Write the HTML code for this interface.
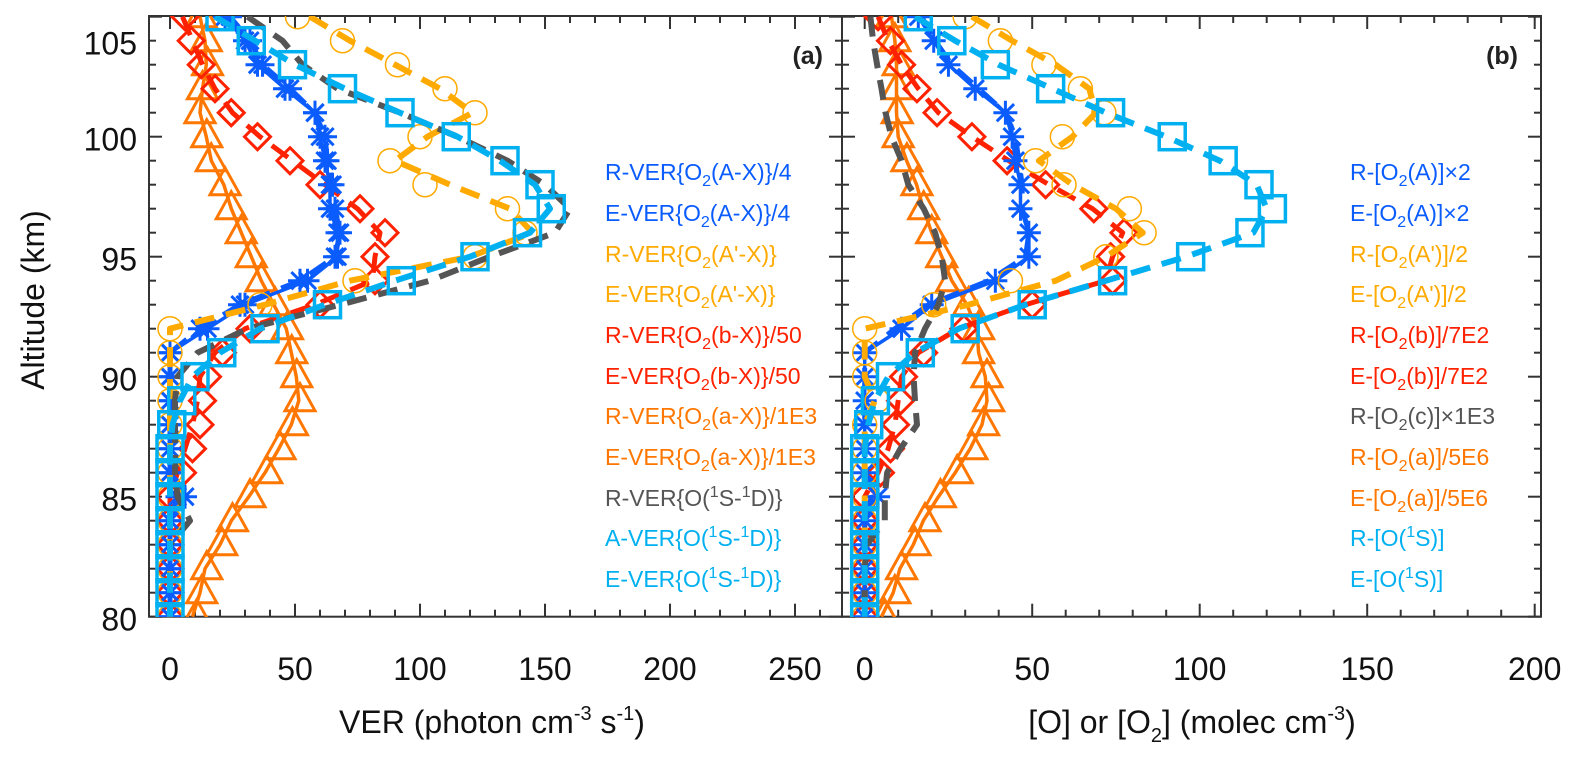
<!DOCTYPE html>
<html><head><meta charset="utf-8"><style>
html,body{margin:0;padding:0;background:#fff}
svg{display:block;font-family:"Liberation Sans",Arial,sans-serif}
</style></head><body>
<svg id="chart" width="1577" height="758" viewBox="0 0 1577 758" xmlns="http://www.w3.org/2000/svg">
<defs>
<clipPath id="clipA"><rect x="149" y="16" width="693" height="601"/></clipPath>
<clipPath id="clipB"><rect x="842" y="16" width="699" height="601"/></clipPath>
</defs>
<g id="axes"></g>
<g id="plotA" clip-path="url(#clipA)"></g>
<g id="plotB" clip-path="url(#clipB)"></g>
<g id="labels">
<text x="823" y="64" font-size="25" font-weight="bold" text-anchor="end" fill="#222">(a)</text>
<text x="1518" y="64" font-size="25" font-weight="bold" text-anchor="end" fill="#222">(b)</text>
<text transform="translate(44,300) rotate(-90)" font-size="32" text-anchor="middle" fill="#111">Altitude (km)</text>
<text x="492" y="733" font-size="32" text-anchor="middle" fill="#111">VER (photon cm<tspan font-size="20" dy="-13">-3</tspan><tspan dy="13"> s</tspan><tspan font-size="20" dy="-13">-1</tspan><tspan dy="13">)</tspan></text>
<text x="1192" y="733" font-size="32" text-anchor="middle" fill="#111">[O] or [O<tspan font-size="20" dy="9">2</tspan><tspan dy="-9">] (molec cm</tspan><tspan font-size="20" dy="-13">-3</tspan><tspan dy="13">)</tspan></text>
</g>
<g id="legendA" font-size="23">
<text x="605" y="180" fill="#0a5cff">R-VER{O<tspan font-size="16" dy="6">2</tspan><tspan dy="-6">(A-X)}/4</tspan></text>
<text x="605" y="221" fill="#0a5cff">E-VER{O<tspan font-size="16" dy="6">2</tspan><tspan dy="-6">(A-X)}/4</tspan></text>
<text x="605" y="262" fill="#ffaa00">R-VER{O<tspan font-size="16" dy="6">2</tspan><tspan dy="-6">(A'-X)}</tspan></text>
<text x="605" y="302" fill="#ffaa00">E-VER{O<tspan font-size="16" dy="6">2</tspan><tspan dy="-6">(A'-X)}</tspan></text>
<text x="605" y="343" fill="#ff2200">R-VER{O<tspan font-size="16" dy="6">2</tspan><tspan dy="-6">(b-X)}/50</tspan></text>
<text x="605" y="384" fill="#ff2200">E-VER{O<tspan font-size="16" dy="6">2</tspan><tspan dy="-6">(b-X)}/50</tspan></text>
<text x="605" y="424" fill="#ff7700">R-VER{O<tspan font-size="16" dy="6">2</tspan><tspan dy="-6">(a-X)}/1E3</tspan></text>
<text x="605" y="465" fill="#ff7700">E-VER{O<tspan font-size="16" dy="6">2</tspan><tspan dy="-6">(a-X)}/1E3</tspan></text>
<text x="605" y="506" fill="#555">R-VER{O(<tspan font-size="16" dy="-9">1</tspan><tspan dy="9">S-</tspan><tspan font-size="16" dy="-9">1</tspan><tspan dy="9">D)}</tspan></text>
<text x="605" y="546" fill="#00b0f0">A-VER{O(<tspan font-size="16" dy="-9">1</tspan><tspan dy="9">S-</tspan><tspan font-size="16" dy="-9">1</tspan><tspan dy="9">D)}</tspan></text>
<text x="605" y="587" fill="#00b0f0">E-VER{O(<tspan font-size="16" dy="-9">1</tspan><tspan dy="9">S-</tspan><tspan font-size="16" dy="-9">1</tspan><tspan dy="9">D)}</tspan></text>
</g>
<g id="legendB" font-size="23">
<text x="1350" y="180" fill="#0a5cff">R-[O<tspan font-size="16" dy="6">2</tspan><tspan dy="-6">(A)]×2</tspan></text>
<text x="1350" y="221" fill="#0a5cff">E-[O<tspan font-size="16" dy="6">2</tspan><tspan dy="-6">(A)]×2</tspan></text>
<text x="1350" y="262" fill="#ffaa00">R-[O<tspan font-size="16" dy="6">2</tspan><tspan dy="-6">(A')]/2</tspan></text>
<text x="1350" y="302" fill="#ffaa00">E-[O<tspan font-size="16" dy="6">2</tspan><tspan dy="-6">(A')]/2</tspan></text>
<text x="1350" y="343" fill="#ff2200">R-[O<tspan font-size="16" dy="6">2</tspan><tspan dy="-6">(b)]/7E2</tspan></text>
<text x="1350" y="384" fill="#ff2200">E-[O<tspan font-size="16" dy="6">2</tspan><tspan dy="-6">(b)]/7E2</tspan></text>
<text x="1350" y="424" fill="#555">R-[O<tspan font-size="16" dy="6">2</tspan><tspan dy="-6">(c)]×1E3</tspan></text>
<text x="1350" y="465" fill="#ff7700">R-[O<tspan font-size="16" dy="6">2</tspan><tspan dy="-6">(a)]/5E6</tspan></text>
<text x="1350" y="506" fill="#ff7700">E-[O<tspan font-size="16" dy="6">2</tspan><tspan dy="-6">(a)]/5E6</tspan></text>
<text x="1350" y="546" fill="#00b0f0">R-[O(<tspan font-size="16" dy="-9">1</tspan><tspan dy="9">S)]</tspan></text>
<text x="1350" y="587" fill="#00b0f0">E-[O(<tspan font-size="16" dy="-9">1</tspan><tspan dy="9">S)]</tspan></text>
</g>
</svg>
<script>
const altitudes = [105,104,103,102,101,100,99,98,97,96,95,94,93,92,91,90,89,88,87,86,85,84,83,82,81,80];
const xTicksA = [0,50,100,150,200,250];
const xTicksB = [0,50,100,150,200];
const yTickLabels = ["105","100","95","90","85","80"];
// Panel (a) VER
const aAX_R = [22,30,35,46,58,60,62,64,64,67,67,55,30,15,0,0,0,0,0,0,6,0,0,0,0,0];
const aAX_E = [24,32,37,48,58,62,63,65,66,68,66,52,28,12,0,0,0,0,0,0,3,0,0,0,0,0];
const aAp_R = [51,69,91,110,122,100,88,102,135,142,122,74,36,0,0,0,0,0,0,0,0,0,0,0,0,0];
const aAp_E = [56,72,90,108,121,103,90,112,136,145,120,72,38,0,0,0,0,0,0,0,0,0,0,0,0,0];
const ab_R = [6,8.5,12.5,18,24.5,35,48,60,76,86,82,82,60,32,21,15,13,12,9,5,0,0,0,0,0,0];
const ab_E = [5,9,13,18,25,36,49,62,75,84,82,81,58,30,18,12,11,9,6,3,0,0,0,0,0,0];
const aa_R = [12.5,14.5,15,13,12,14.7,16.5,22,24.5,28.5,32.5,36.5,42,47,48.7,50.7,52,49,44,38.7,32,25,20.7,14.7,12.7,10.7];
const aa_E = [12,14,14.5,13,12,14.5,16.5,21.5,24.5,28.5,32.5,36.5,41.5,46.5,48.5,50.5,51.5,48.5,43.5,38,31.5,24.5,20,14,12,9];
const aS_R = [31,45,53,67,92,115,135,150,160,154,128,104,68,31,11,3,2,2,2,2,3,8,0,0,0,0];
const aS_A = [20,32.5,49,69,92,114.5,134,148,152.5,143,122,92.5,63,38,20.7,10,4.7,0.7,0,0,0,0,0,0,0,0];
const aS_E = [18,34,50,70,92,115,132,146,152,144,120,90,62,36,20,9,4,1,0,0,0,0,0,0,0,0];
// Panel (b) densities
const bA_R = [16,20.6,25,33,42,44,45,46.5,46.5,49,49,39,20,11,0,0,0,0,0,0,4,0,0,0,0,0];
const bA_E = [17,21,26,34,42,45,46,47,47,49,48,37,19,9,0,0,0,0,0,0,2,0,0,0,0,0];
const bAp_R = [30,40.5,53.5,64.4,71.4,59,51,59.5,79,83.4,72,43.5,20.6,0,0,0,3.7,0,0,0,0,0,0,0,0,0];
const bAp_E = [32,44,57,67,69,62,52,62,75,83,72,57,31,0,0,0,3,0,0,0,0,0,0,0,0,0];
const bb_R = [4,7.7,11,15.6,21.6,32,42.5,54,68.4,77.4,73.4,74,50,29.6,17.6,11.6,10.7,9.2,7.7,4.7,0,0,0,0,0,0];
const bb_E = [4,7,11,16,22,32,43,55,68,77,74,72,48,28,16,11,10,9,7,4,0,0,0,0,0,0];
const bc_R = [1.7,2.5,3.7,5,6.2,8,11,13,17.6,21,23,24,22,18,15,14.6,15,15.6,10.7,6.7,6,6,0.7,0,0,0];
const ba_R = [8,9,10,9.7,9.7,10,12.6,15.6,17.6,20,23,26,31,34,34,36.5,37,35.5,32,27.6,22.6,18,15,11,9,6];
const ba_E = [8,9,9.5,9.5,9.5,10,12.5,15.5,17.5,20,23,26,30.5,33.5,34,36,36.5,35,31.5,27,22,17.5,14.5,10.5,8.5,5];
const bO_R = [16,26,39,55.5,73.4,91.8,107,117.7,121.7,115,97.3,74,50,30,16.6,7.7,3.2,1.2,0,0,0,0,0,0,0,0];
const bO_E = [15,27,40,56,72,90,106,117,120,116,96,72,48,28,15,7,3,1,0,0,0,0,0,0,0,0];

const NS="http://www.w3.org/2000/svg";
function yS(a){return 616.7-(a-80)*24;}
function xA(v){return 170+2.5*v;}
function xB(v){return 864.7+3.35*v;}
function mk(tag,attrs,parent){const e=document.createElementNS(NS,tag);for(const k in attrs)e.setAttribute(k,attrs[k]);parent.appendChild(e);return e;}

const axes=document.getElementById('axes');
function drawPanel(x0,x1,xf,ticks,maxV,name){
  const box=mk('rect',{x:x0,y:16,width:x1-x0,height:600.7,fill:'none',stroke:'#333','stroke-width':2},axes);
  
  
  for(let a=80;a<=105;a++){
    const L=(a%5===0)?13:7;
    mk('line',{x1:x0,x2:x0+L,y1:yS(a),y2:yS(a),stroke:'#333','stroke-width':2},axes);
    mk('line',{x1:x1,x2:x1-L,y1:yS(a),y2:yS(a),stroke:'#333','stroke-width':2},axes);
  }
  for(let v=0;v<=maxV;v+=10){
    const X=xf(v); if(X>x1-1) continue;
    const L=(v%50===0)?13:7;
    mk('line',{x1:X,x2:X,y1:616.7,y2:616.7-L,stroke:'#333','stroke-width':2},axes);
    mk('line',{x1:X,x2:X,y1:16,y2:16+L,stroke:'#333','stroke-width':2},axes);
  }
  ticks.forEach(t=>{
    const tx=mk('text',{x:xf(t),y:680,'font-size':32,'text-anchor':'middle',fill:'#111'},axes);
    tx.textContent=String(t);
    
    
  });
}
drawPanel(149,842,xA,xTicksA,270,'panel-a');
drawPanel(842,1541,xB,xTicksB,200,'panel-b');
const yLabelAlt=[104,100,95,90,85,80];
yTickLabels.forEach((s,i)=>{
  const t=mk('text',{x:137,y:yS(yLabelAlt[i])+14,'font-size':32,'text-anchor':'end',fill:'#111'},axes);
  t.textContent=s;
  
  
});

function line(g,xf,vals,color,dash,w,name){
  const d=vals.map((v,i)=>(i?'L':'M')+xf(v).toFixed(1)+' '+yS(altitudes[i]).toFixed(1)).join(' ');
  const p=mk('path',{d:d,fill:'none',stroke:color,'stroke-width':w,'stroke-dasharray':dash||'none','stroke-linejoin':'round'},g);
  
  
}
function markers(g,xf,vals,type,color,name){
  const grp=mk('g',{},g);
  
  
  vals.forEach((v,i)=>{
    const X=xf(v),Y=yS(altitudes[i]);
    if(type==='square') mk('rect',{x:X-13,y:Y-13,width:26,height:26,fill:'none',stroke:color,'stroke-width':3.5},grp);
    else if(type==='diamond') mk('path',{d:`M${X} ${Y-13}L${X+13} ${Y}L${X} ${Y+13}L${X-13} ${Y}Z`,fill:'none',stroke:color,'stroke-width':3},grp);
    else if(type==='triangle') mk('path',{d:`M${X} ${Y-17}L${X+15} ${Y+10}L${X-15} ${Y+10}Z`,fill:'none',stroke:color,'stroke-width':3},grp);
    else if(type==='circle') mk('circle',{cx:X,cy:Y,r:12,fill:'none',stroke:color,'stroke-width':1.5},grp);
    else if(type==='star'){
      const r=12;
      mk('path',{d:`M${X-r} ${Y}H${X+r}M${X} ${Y-r}V${Y+r}M${X-r*0.72} ${Y-r*0.72}L${X+r*0.72} ${Y+r*0.72}M${X-r*0.72} ${Y+r*0.72}L${X+r*0.72} ${Y-r*0.72}`,stroke:color,'stroke-width':3,fill:'none'},grp);
    }
  });
}
const DASH='20 12';
const A=document.getElementById('plotA');
line(A,xA,aa_E,'#ff7700',null,3.5,'line-e-o2a-a');
markers(A,xA,aa_R,'triangle','#ff7700','markers-r-o2a-a');
line(A,xA,ab_E,'#ff2200',DASH,5,'line-e-o2b-a');
markers(A,xA,ab_R,'diamond','#ff2200','markers-r-o2b-a');
line(A,xA,aAX_R,'#0a5cff',null,3.5,'line-r-o2A-a');
line(A,xA,aAX_E,'#0a5cff',DASH,5,'line-e-o2A-a');
markers(A,xA,aAX_R,'star','#0a5cff','markers-r-o2A-a');
markers(A,xA,aAX_E,'star','#0a5cff','markers-e-o2A-a');
line(A,xA,aAp_E,'#ffaa00',DASH,6,'line-e-o2Ap-a');
markers(A,xA,aAp_R,'circle','#ffaa00','markers-r-o2Ap-a');
line(A,xA,aS_R,'#555555',DASH,6,'line-r-o1s-a');
line(A,xA,aS_E,'#00b0f0',DASH,6,'line-e-o1s-a');
markers(A,xA,aS_A,'square','#00b0f0','markers-a-o1s-a');

const B=document.getElementById('plotB');
line(B,xB,ba_E,'#ff7700',null,3.5,'line-e-o2a-b');
markers(B,xB,ba_R,'triangle','#ff7700','markers-r-o2a-b');
line(B,xB,bb_E,'#ff2200',DASH,5,'line-e-o2b-b');
markers(B,xB,bb_R,'diamond','#ff2200','markers-r-o2b-b');
line(B,xB,bA_R,'#0a5cff',null,3.5,'line-r-o2A-b');
line(B,xB,bA_E,'#0a5cff',DASH,5,'line-e-o2A-b');
markers(B,xB,bA_R,'star','#0a5cff','markers-r-o2A-b');
line(B,xB,bAp_E,'#ffaa00',DASH,6,'line-e-o2Ap-b');
markers(B,xB,bAp_R,'circle','#ffaa00','markers-r-o2Ap-b');
line(B,xB,bc_R,'#555555',DASH,6,'line-r-o2c-b');
line(B,xB,bO_E,'#00b0f0',DASH,6,'line-e-o1s-b');
markers(B,xB,bO_R,'square','#00b0f0','markers-r-o1s-b');
</script>
</body></html>
